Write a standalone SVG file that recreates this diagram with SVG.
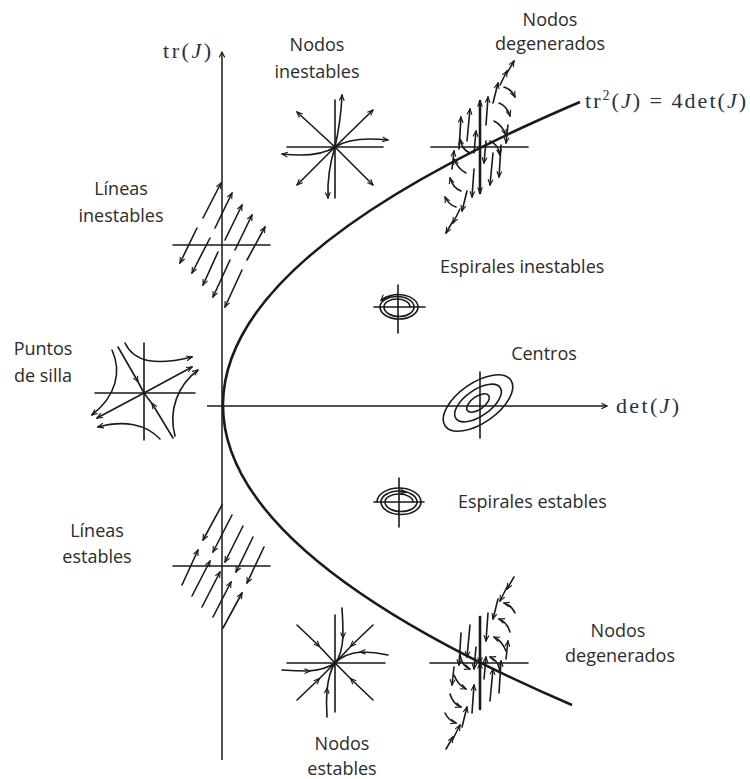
<svg xmlns="http://www.w3.org/2000/svg" xmlns:xlink="http://www.w3.org/1999/xlink" width="750" height="779" viewBox="0 0 750 779">
<style>
  .lbl { font-family: "Open Sans", "Liberation Sans", sans-serif; font-size: 18px; fill: #2b2b2b; text-anchor: middle; }
  .math { font-family: "Liberation Serif", "DejaVu Serif", serif; font-size: 22px; fill: #23324a; }
  .ln { fill: none; stroke: #1a1a1a; stroke-width: 1.6; stroke-linecap: round; }
  .ax { fill: none; stroke: #1a1a1a; stroke-width: 1.5; }
  .end { marker-end: url(#ah); }
  .mid { marker-mid: url(#ahm); }
</style>
<defs>
  <marker id="ah" viewBox="0 0 10 10" refX="9" refY="5" markerWidth="7" markerHeight="7" markerUnits="userSpaceOnUse" orient="auto">
    <path d="M1,1.5 L9,5 L1,8.5" fill="none" stroke="#1a1a1a" stroke-width="1.6"/>
  </marker>
  <marker id="ahr" viewBox="0 0 10 10" refX="9" refY="5" markerWidth="7" markerHeight="7" markerUnits="userSpaceOnUse" orient="auto-start-reverse">
    <path d="M1,1.5 L9,5 L1,8.5" fill="none" stroke="#1a1a1a" stroke-width="1.6"/>
  </marker>
  <marker id="ahm" viewBox="0 0 10 10" refX="6" refY="5" markerWidth="7" markerHeight="7" markerUnits="userSpaceOnUse" orient="auto">
    <path d="M1,1.5 L9,5 L1,8.5" fill="none" stroke="#1a1a1a" stroke-width="1.6"/>
  </marker>
  <marker id="axh" viewBox="0 0 10 10" refX="9" refY="5" markerWidth="8" markerHeight="8" markerUnits="userSpaceOnUse" orient="auto">
    <path d="M2,1.5 L9,5 L2,8.5" fill="none" stroke="#1a1a1a" stroke-width="1.4"/>
  </marker>
  <g id="degA" class="ln">
    <path d="M-21,2 L-19,-30"/>
    <path d="M-13,-6 L-10,-38"/>
    <path d="M-6,6 L-4,-16"/>
    <path d="M6,-22 L8,-50"/>
    <path d="M13,-44 L18,-64"/>
    <path d="M20,-62 L27,-76"/>
    <path d="M27,-74 L34,-86"/>
    <path d="M-28,22 L-26,4"/>
    <path d="M10,-6 Q18,-3 20,8"/>
    <path d="M14,-26 Q22,-22 26,-12"/>
    <path d="M19,-44 Q27,-41 30,-31"/>
    <path d="M24,-60 Q31,-58 35,-50"/>
  </g>
  <g id="degen">
    <path class="ln" d="M0,0 L0,-46" style="stroke-width:2.6"/>
    <path class="ln" d="M0,0 L0,46" style="stroke-width:2.6"/>
    <use xlink:href="#degA" href="#degA"/>
    <use xlink:href="#degA" href="#degA" transform="rotate(180)"/>
  </g>
</defs>

<g id="axes">
  <path class="ax" d="M222,760 L222,52" marker-end="url(#axh)"/>
  <path class="ax" d="M207,406 L607,406" marker-end="url(#axh)"/>
  <text class="math" x="163" y="58" font-size="23" textLength="48" lengthAdjust="spacing">tr(<tspan font-style="italic">J</tspan>)</text>
  <text class="math" x="616" y="413" font-size="22" textLength="63" lengthAdjust="spacing">det(<tspan font-style="italic">J</tspan>)</text>
</g>

<g id="parabola">
  <path d="M580,102 Q-130,403.5 572,705" fill="none" stroke="#1a1a1a" stroke-width="2.6"/>
  <text class="math" x="585" y="108" font-size="22" textLength="161" lengthAdjust="spacing">tr<tspan font-size="14" dy="-8">2</tspan><tspan dy="8">(</tspan><tspan font-style="italic">J</tspan>) = 4det(<tspan font-style="italic">J</tspan>)</text>
</g>

<g id="nodos-inestables">
  <text class="lbl" x="317" y="51">Nodos</text>
  <text class="lbl" x="317" y="78">inestables</text>
  <path class="ln" d="M287,147 L383,147 M335,100 L335,198"/>
  <path class="ln end" d="M335,147 L297,112"/>
  <path class="ln end" d="M335,147 L373,110"/>
  <path class="ln end" d="M335,147 L297,185"/>
  <path class="ln end" d="M335,147 L373,185"/>
  <path class="ln end" d="M335,147 Q341,120 342,95"/>
  <path class="ln end" d="M335,147 Q327,172 328,198"/>
  <path class="ln end" d="M335,147 Q352,136 388,140"/>
  <path class="ln end" d="M335,147 Q318,158 282,154"/>
</g>

<g id="nodos-degenerados-inestables">
  <text class="lbl" x="550" y="26">Nodos</text>
  <text class="lbl" x="550" y="50">degenerados</text>
  <path class="ln" d="M431,147 L528,147"/>
  <use xlink:href="#degen" href="#degen" transform="translate(480,147)" style="marker-end:url(#ah)"/>
</g>

<g id="lineas-inestables">
  <text class="lbl" x="121" y="195">Líneas</text>
  <text class="lbl" x="121" y="222">inestables</text>
  <path class="ln" d="M173,245 L270,245"/>
  <path class="ln end" d="M203,218 L221,183"/>
  <path class="ln end" d="M197,228 L180,263"/>
  <path class="ln end" d="M215,228 L232,193"/>
  <path class="ln end" d="M210,238 L192,273"/>
  <path class="ln end" d="M225,240 L242,205"/>
  <path class="ln end" d="M218,252 L203,285"/>
  <path class="ln end" d="M235,250 L252,215"/>
  <path class="ln end" d="M230,260 L213,297"/>
  <path class="ln end" d="M247,260 L265,227"/>
  <path class="ln end" d="M242,270 L225,307"/>
</g>

<g id="puntos-de-silla">
  <text class="lbl" x="43" y="355">Puntos</text>
  <text class="lbl" x="43" y="382">de silla</text>
  <path class="ln" d="M95,393 L195,393 M144,343 L144,440"/>
  <path class="ln mid" d="M118,347 L137,380 L144,393"/>
  <path class="ln mid" d="M173,438 L153,405 L144,393"/>
  <path class="ln end" d="M144,393 L192,367"/>
  <path class="ln end" d="M144,393 L97,418"/>
  <path class="ln end" d="M125,343 C134,362 155,366 192,357"/>
  <path class="ln end" d="M175,436 C168,410 178,385 198,370"/>
  <path class="ln end" d="M112,350 C122,372 116,396 92,415"/>
  <path class="ln end" d="M160,439 C146,424 124,420 98,427"/>
</g>

<g id="espirales-inestables">
  <text class="lbl" x="440" y="273" style="text-anchor:start">Espirales inestables</text>
  <path class="ln" d="M374,307 L425,307 M398,285 L398,333"/>
  <path class="ln end" d="M410,307 A13,8 0 0 0 384,307 A15,9.5 0 0 0 414,307 A17,10.5 0 0 0 380,307 A19,12 0 0 0 418,307 A20,12.5 0 0 0 381,300.5"/>
</g>

<g id="centros">
  <text class="lbl" x="544" y="360">Centros</text>
  <path class="ln" d="M480,372 L480,438"/>
  <g class="ln">
    <ellipse cx="478" cy="403" rx="40" ry="20" transform="rotate(-35 478 403)"/>
    <ellipse cx="478" cy="403" rx="27" ry="13" transform="rotate(-35 478 403)"/>
    <ellipse cx="478" cy="403" rx="13" ry="6.5" transform="rotate(-35 478 403)"/>
  </g>
</g>

<g id="espirales-estables">
  <text class="lbl" x="458" y="508" style="text-anchor:start">Espirales estables</text>
  <path class="ln" d="M374,502 L424,502 M399,478 L399,527"/>
  <path class="ln" d="M377,502 A22,14 0 0 1 421,502 A20,12.5 0 0 1 381,502 A18,11 0 0 1 417,502 A16,9.5 0 0 1 385,502 A14,8 0 0 1 413,502"/>
  <path class="ln end" d="M400,491.6 L406,492.2"/>
</g>

<g id="lineas-estables">
  <text class="lbl" x="97" y="537">Líneas</text>
  <text class="lbl" x="97" y="563">estables</text>
  <path class="ln" d="M173,566 L270,566"/>
  <path class="ln end" d="M222,505 L203,540"/>
  <path class="ln end" d="M182,585 L198,550"/>
  <path class="ln end" d="M232,515 L213,552"/>
  <path class="ln end" d="M192,596 L210,561"/>
  <path class="ln end" d="M243,526 L225,562"/>
  <path class="ln end" d="M202,607 L220,572"/>
  <path class="ln end" d="M253,537 L236,572"/>
  <path class="ln end" d="M213,617 L231,582"/>
  <path class="ln end" d="M264,547 L247,583"/>
  <path class="ln end" d="M223,628 L242,593"/>
</g>

<g id="nodos-estables">
  <text class="lbl" x="342" y="750">Nodos</text>
  <text class="lbl" x="342" y="775">estables</text>
  <path class="ln" d="M287,663 L385,663 M335,615 L335,712"/>
  <path class="ln mid" d="M297,625 L318,645 L335,663"/>
  <path class="ln mid" d="M373,625 L352,645 L335,663"/>
  <path class="ln mid" d="M297,700 L318,680 L335,663"/>
  <path class="ln mid" d="M373,700 L352,680 L335,663"/>
  <path class="ln mid" d="M342,608 Q343,622 343,636 Q342,655 335,663"/>
  <path class="ln mid" d="M388,655 Q375,652 362,652 Q345,653 335,663"/>
  <path class="ln mid" d="M282,670 Q296,671 308,671 Q325,670 335,663"/>
  <path class="ln mid" d="M327,717 Q326,703 327,690 Q329,672 335,663"/>
</g>

<g id="nodos-degenerados-estables">
  <text class="lbl" x="618" y="637">Nodos</text>
  <text class="lbl" x="620" y="662">degenerados</text>
  <path class="ln" d="M430,663 L528,663"/>
  <use xlink:href="#degen" href="#degen" transform="translate(480,663)" style="marker-start:url(#ahr)"/>
</g>
</svg>
